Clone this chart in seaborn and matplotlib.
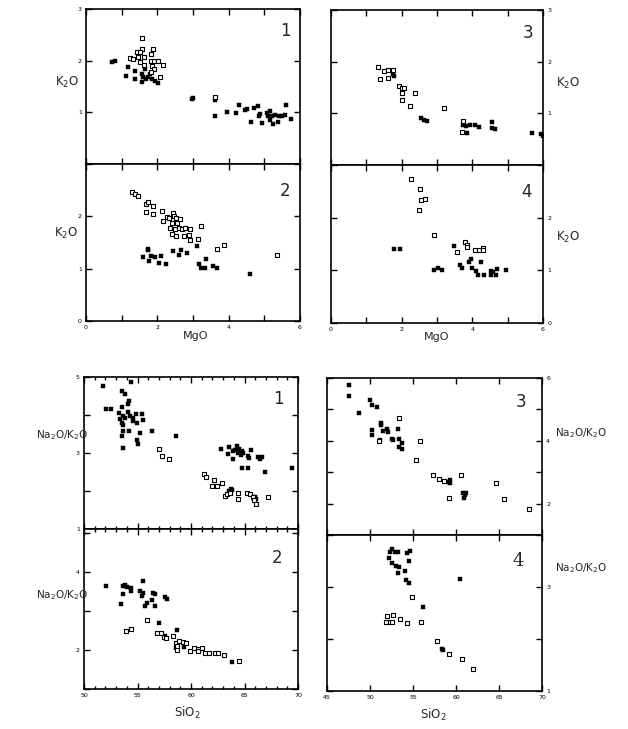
import numpy as np
import pandas as pd
import matplotlib
matplotlib.use("Agg")
import matplotlib.pyplot as plt
from matplotlib.ticker import MultipleLocator, FixedLocator
import seaborn as sns

sns.set_style("ticks")
plt.rcParams['font.family'] = ['DejaVu Sans']
plt.rcParams['mathtext.default'] = 'regular'

# ---------------- DATA ----------------
# Top-left panel 1 : K2O vs MgO
tl1_open_mgo = [1.58, 1.44, 1.57, 1.50, 1.87, 1.83, 1.24, 1.31, 1.47, 1.63, 1.50, 1.64, 1.82, 1.91, 2.03, 2.17, 1.85, 1.91, 1.83, 2.08, 3.63]
tl1_open_k2o = [2.44, 2.17, 2.22, 2.16, 2.22, 2.13, 2.05, 2.03, 2.07, 2.07, 1.98, 1.91, 1.99, 1.99, 2.00, 1.91, 1.89, 1.83, 1.78, 1.69, 1.30]
tl1_fill_mgo = [0.74, 0.81, 1.19, 1.12, 1.38, 1.36, 1.57, 1.61, 1.69, 1.57, 1.75, 1.85, 1.94, 2.01, 1.66, 1.80,
                2.97, 2.99, 3.63, 3.63, 3.96, 4.21, 4.30, 4.45, 4.52, 4.72, 4.82, 4.64, 4.89, 4.85, 4.94, 5.08, 5.17,
                5.11, 5.22, 5.31, 5.41, 5.50, 5.57, 5.15, 5.25, 5.38, 5.62, 5.75]
tl1_fill_k2o = [1.98, 2.00, 1.88, 1.71, 1.80, 1.64, 1.74, 1.68, 1.64, 1.59, 1.68, 1.64, 1.61, 1.57, 1.83, 1.74,
                1.25, 1.27, 1.23, 0.93, 1.01, 0.99, 1.14, 1.05, 1.06, 1.08, 1.13, 0.81, 0.96, 0.93, 0.80, 0.99, 1.02,
                0.93, 0.93, 0.94, 0.93, 0.93, 0.94, 0.86, 0.77, 0.82, 1.14, 0.88]

# Top-left panel 2
tl2_open_mgo = [1.29, 1.36, 1.47, 1.68, 1.73, 1.89, 1.68, 1.88, 2.13, 2.17, 2.27, 2.33, 2.45, 2.48, 2.53, 2.64,
                2.41, 2.55, 2.36, 2.50, 2.62, 2.69, 2.78, 2.92, 2.41, 2.53, 2.76, 2.89, 2.92, 3.23, 3.13, 3.67, 3.88, 5.35]
tl2_open_k2o = [2.46, 2.43, 2.39, 2.24, 2.27, 2.19, 2.09, 2.05, 2.11, 1.91, 1.99, 1.97, 2.06, 2.01, 1.97, 1.94,
                1.87, 1.87, 1.78, 1.75, 1.78, 1.76, 1.78, 1.76, 1.67, 1.62, 1.63, 1.65, 1.54, 1.82, 1.57, 1.37, 1.45, 1.27]
tl2_fill_mgo = [1.74, 1.75, 1.59, 1.83, 1.94, 2.11, 1.78, 2.05, 2.25, 2.43, 2.67, 2.61, 2.83, 3.11, 3.37, 3.17, 3.23, 3.34, 3.57, 3.67, 4.60]
tl2_fill_k2o = [1.35, 1.38, 1.22, 1.24, 1.23, 1.24, 1.15, 1.11, 1.08, 1.33, 1.35, 1.27, 1.29, 1.43, 1.18, 1.09, 1.02, 1.02, 1.06, 1.02, 0.89]

# Top-right panel 3
tr3_open_mgo = [1.34, 1.50, 1.60, 1.76, 1.38, 1.62, 1.92, 2.00, 2.07, 2.02, 2.02, 2.37, 2.23, 3.19, 3.73, 3.71]
tr3_open_k2o = [1.89, 1.82, 1.84, 1.84, 1.66, 1.68, 1.53, 1.49, 1.49, 1.40, 1.25, 1.39, 1.15, 1.11, 0.85, 0.63]
tr3_fill_mgo = [1.76, 1.78, 2.54, 2.63, 2.72, 3.73, 3.83, 3.92, 4.08, 4.18, 3.85, 4.55, 4.57, 4.65, 5.68, 5.94, 5.99]
tr3_fill_k2o = [1.76, 1.72, 0.91, 0.87, 0.85, 0.77, 0.75, 0.78, 0.77, 0.73, 0.61, 0.84, 0.72, 0.70, 0.61, 0.60, 0.57]

# Top-right panel 4
tr4_open_mgo = [2.27, 2.52, 2.55, 2.67, 2.50, 2.92, 3.58, 3.79, 3.86, 3.86, 4.07, 4.19, 4.31, 4.31]
tr4_open_k2o = [2.74, 2.55, 2.34, 2.35, 2.14, 1.68, 1.35, 1.53, 1.49, 1.45, 1.38, 1.39, 1.43, 1.39]
tr4_fill_mgo = [1.78, 1.94, 3.49, 2.92, 3.04, 3.13, 3.66, 3.72, 3.96, 3.91, 4.24, 4.00, 4.10, 4.17, 4.33, 4.54, 4.59, 4.66, 4.70, 4.52, 4.94]
tr4_fill_k2o = [1.41, 1.41, 1.46, 1.01, 1.05, 1.01, 1.11, 1.05, 1.22, 1.15, 1.15, 1.05, 0.99, 0.92, 0.92, 0.99, 0.96, 0.92, 1.03, 0.92, 1.00]

# Bottom-left panel 1 : Na2O/K2O vs SiO2
bl1_fill_sio2 = [51.74, 54.36, 53.52, 53.83, 54.24, 54.14, 52.06, 52.52, 53.52, 53.30, 53.61, 53.36, 53.83, 53.52, 53.68,
                 54.14, 54.30, 54.61, 54.55, 54.92, 54.86, 55.39, 55.55, 53.68, 54.21, 55.23, 56.32, 53.52, 54.92, 55.08,
                 58.57, 53.61, 62.77, 63.58, 64.27, 64.11, 64.52, 64.74, 64.89, 64.67, 64.42, 63.96, 63.43, 63.96,
                 65.58, 65.36, 65.45, 66.29, 66.60, 66.45, 64.74, 65.36, 66.92, 69.47, 63.71, 63.58, 63.80, 65.98, 66.07]
bl1_fill_ratio = [4.76, 4.87, 4.64, 4.55, 4.36, 4.29, 4.17, 4.17, 4.20, 4.06, 3.97, 3.89, 3.93, 3.80, 3.74,
                  4.08, 3.97, 3.93, 3.85, 3.80, 4.03, 4.03, 3.87, 3.59, 3.59, 3.53, 3.59, 3.46, 3.34, 3.25,
                  3.44, 3.12, 3.11, 3.17, 3.19, 3.08, 3.11, 3.06, 3.00, 2.94, 3.00, 3.04, 2.97, 2.85,
                  3.08, 2.93, 2.87, 2.89, 2.89, 2.83, 2.60, 2.60, 2.49, 2.60, 2.06, 2.00, 2.03, 1.84, 1.79]
bl1_open_sio2 = [57.01, 57.26, 57.94, 61.21, 61.40, 62.18, 61.93, 62.40, 62.87, 63.18, 63.40, 63.61, 64.36, 64.42,
                 65.20, 65.51, 65.76, 65.89, 66.07, 67.23]
bl1_open_ratio = [3.10, 2.93, 2.84, 2.46, 2.36, 2.30, 2.14, 2.14, 2.20, 1.86, 1.91, 1.94, 1.94, 1.78,
                  1.94, 1.91, 1.84, 1.77, 1.65, 1.84]

# Bottom-left panel 2
bl2_fill_sio2 = [52.06, 53.65, 53.87, 54.03, 54.38, 54.38, 53.65, 53.49, 55.49, 55.24, 55.56, 55.40, 56.44, 56.67,
                 56.35, 55.71, 56.67, 55.87, 57.56, 57.78, 56.98, 58.73, 58.63, 59.37, 57.56, 63.81]
bl2_fill_ratio = [3.64, 3.64, 3.67, 3.62, 3.60, 3.51, 3.44, 3.19, 3.77, 3.51, 3.47, 3.38, 3.47, 3.43,
                  3.27, 3.13, 3.13, 3.21, 3.36, 3.30, 2.68, 2.50, 2.04, 2.08, 2.36, 1.70]
bl2_open_sio2 = [55.87, 53.97, 54.38, 56.83, 57.24, 57.46, 57.62, 58.32, 58.57, 58.73, 58.73, 58.89, 59.21, 59.52,
                 59.90, 60.32, 60.63, 61.05, 60.63, 61.27, 61.68, 62.22, 62.54, 63.08, 64.44]
bl2_open_ratio = [2.76, 2.49, 2.53, 2.44, 2.44, 2.33, 2.31, 2.36, 2.19, 2.10, 1.99, 2.23, 2.21, 2.19,
                  1.97, 2.04, 2.02, 2.04, 1.97, 1.93, 1.91, 1.91, 1.91, 1.87, 1.72]

# Bottom-right panel 3
br3_fill_sio2 = [47.61, 47.61, 50.02, 50.21, 50.80, 48.74, 51.26, 51.26, 50.21, 50.21, 51.50, 51.97, 52.05, 51.11,
                 52.55, 52.67, 53.21, 53.33, 53.72, 53.40, 53.72, 59.09, 59.28, 59.36, 60.84, 60.99, 61.11, 60.91]
br3_fill_ratio = [5.79, 5.42, 5.31, 5.13, 5.08, 4.89, 4.57, 4.49, 4.34, 4.18, 4.31, 4.38, 4.28, 4.02,
                  4.06, 4.04, 4.36, 4.06, 3.94, 3.81, 3.75, 2.70, 2.67, 2.74, 2.33, 2.26, 2.35, 2.19]
br3_open_sio2 = [53.33, 50.99, 55.86, 55.35, 57.30, 58.00, 58.66, 60.60, 59.24, 64.69, 65.58, 68.50]
br3_open_ratio = [4.73, 3.99, 3.99, 3.39, 2.90, 2.79, 2.72, 2.90, 2.19, 2.67, 2.14, 1.82]

# Bottom-right panel 4
br4_fill_sio2 = [52.33, 52.61, 52.92, 53.31, 52.22, 52.53, 53.00, 53.43, 53.20, 54.02, 54.29, 54.69, 54.49,
                 54.18, 54.49, 60.49, 56.14, 58.33, 58.49]
br4_fill_ratio = [3.68, 3.73, 3.67, 3.67, 3.55, 3.47, 3.40, 3.38, 3.26, 3.30, 3.65, 3.70, 3.50,
                  3.13, 3.07, 3.16, 2.61, 1.81, 1.78]
br4_open_sio2 = [54.88, 51.94, 52.73, 51.86, 52.33, 52.61, 53.51, 54.29, 55.98, 57.82, 59.20, 60.65, 61.94]
br4_open_ratio = [2.81, 2.44, 2.46, 2.33, 2.33, 2.33, 2.38, 2.30, 2.33, 1.97, 1.72, 1.62, 1.42]

# ---------------- FIGURE ----------------
W, H = 628, 729
fig = plt.figure(figsize=(W / 100, H / 100), dpi=100)
fig.patch.set_facecolor('white')


def add_ax(x0, x1, y0, y1):
    return fig.add_axes([x0 / W, 1 - y1 / H, (x1 - x0) / W, (y1 - y0) / H])


def scatter(ax, fx, fy, ox, oy):
    sns.scatterplot(x=fx, y=fy, ax=ax, marker='s', s=5, color='black',
                    edgecolor='black', linewidth=0.3, legend=False, zorder=3)
    sns.scatterplot(x=ox, y=oy, ax=ax, marker='s', s=8, color='white',
                    edgecolor='black', linewidth=0.8, legend=False, zorder=4)


def style(ax, right=False):
    for sp in ax.spines.values():
        sp.set_linewidth(1.2)
        sp.set_color('black')
    ax.tick_params(which='both', direction='in', top=True, bottom=True, left=True, right=True,
                   labelsize=4.5, width=1.0, pad=3, colors='black')
    ax.tick_params(which='major', length=4)
    ax.tick_params(which='minor', length=2)
    if right:
        ax.tick_params(labelleft=False, labelright=True)
    ax.set_xlabel('')
    ax.set_ylabel('')


def txt(px, py, s, size=9, **kw):
    fig.text(px / W, 1 - py / H, s, fontsize=size, ha='center', va='center', **kw)


# Top-left
a = add_ax(86, 300, 9, 164)
scatter(a, tl1_fill_mgo, tl1_fill_k2o, tl1_open_mgo, tl1_open_k2o)
b = add_ax(86, 300, 164, 321)
scatter(b, tl2_fill_mgo, tl2_fill_k2o, tl2_open_mgo, tl2_open_k2o)
# Top-right
c = add_ax(331, 543, 10, 165)
scatter(c, tr3_fill_mgo, tr3_fill_k2o, tr3_open_mgo, tr3_open_k2o)
d = add_ax(331, 543, 165, 323)
scatter(d, tr4_fill_mgo, tr4_fill_k2o, tr4_open_mgo, tr4_open_k2o)

for ax, right, ylabels in [(a, False, [1, 2, 3]), (b, False, [0, 1, 2]),
                           (c, True, [1, 2, 3]), (d, True, [0, 1, 2])]:
    style(ax, right)
    ax.set_xlim(0, 6)
    ax.set_ylim(0, 3)
    ax.xaxis.set_major_locator(MultipleLocator(1))
    ax.set_xticklabels([])
    ax.yaxis.set_major_locator(FixedLocator([0, 1, 2, 3]))
    ax.set_yticklabels([str(v) if v in ylabels else '' for v in [0, 1, 2, 3]])
for ax in (b, d):
    ax.set_xticks([0, 1, 2, 3, 4, 5, 6])
    ax.set_xticklabels(['0', '', '2', '', '4', '', '6'])

# Bottom-left
e = add_ax(84, 298, 377, 529)
scatter(e, bl1_fill_sio2, bl1_fill_ratio, bl1_open_sio2, bl1_open_ratio)
f = add_ax(84, 298, 529, 689)
scatter(f, bl2_fill_sio2, bl2_fill_ratio, bl2_open_sio2, bl2_open_ratio)
# Bottom-right
g = add_ax(327, 542, 378, 535)
scatter(g, br3_fill_sio2, br3_fill_ratio, br3_open_sio2, br3_open_ratio)
h = add_ax(327, 542, 535, 691)
scatter(h, br4_fill_sio2, br4_fill_ratio, br4_open_sio2, br4_open_ratio)

for ax in (e, f):
    style(ax)
    ax.set_xlim(50, 70)
    ax.xaxis.set_major_locator(MultipleLocator(5))
    ax.xaxis.set_minor_locator(MultipleLocator(1))
e.set_xticklabels([])
e.set_ylim(1, 5)
e.set_yticks([1, 2, 3, 4, 5])
e.set_yticklabels(['1', '', '3', '', '5'])
f.set_ylim(1, 5.1)
f.set_yticks([1, 2, 3, 4, 5])
f.set_yticklabels(['', '2', '', '4', ''])
f.set_xticks([50, 55, 60, 65, 70])
f.set_xticklabels(['50', '55', '60', '65', '70'])

for ax in (g, h):
    style(ax, right=True)
    ax.set_xlim(45, 70)
    ax.xaxis.set_major_locator(MultipleLocator(5))
g.set_xticklabels([])
g.set_ylim(1, 6)
g.set_yticks([1, 2, 3, 4, 5, 6])
g.set_yticklabels(['', '2', '', '4', '', '6'])
h.set_ylim(1, 4)
h.set_yticks([1, 2, 3, 4])
h.set_yticklabels(['1', '', '3', ''])
h.set_xticks([45, 50, 55, 60, 65, 70])
h.set_xticklabels(['45', '50', '55', '60', '65', '70'])

# Axis labels
txt(67, 82, 'K$_2$O', 8.5)
txt(66, 233, 'K$_2$O', 8.5)
txt(568, 83, 'K$_2$O', 8.5)
txt(568, 237, 'K$_2$O', 8.5)
txt(196, 336, 'MgO', 8)
txt(437, 337, 'MgO', 8)
txt(62, 435, 'Na$_2$O/K$_2$O', 7.5)
txt(62, 595, 'Na$_2$O/K$_2$O', 7.5)
txt(581, 433, 'Na$_2$O/K$_2$O', 7.5)
txt(581, 568, 'Na$_2$O/K$_2$O', 7.5)
txt(187, 713, 'SiO$_2$', 8.5)
txt(433, 715, 'SiO$_2$', 8.5)

# Panel numbers
txt(285, 31, '1', 12)
txt(285, 191, '2', 12)
txt(528, 33, '3', 12)
txt(527, 192, '4', 12)
txt(278, 399, '1', 12)
txt(277, 558, '2', 12)
txt(521, 402, '3', 12)
txt(518, 561, '4', 13, family='DejaVu Serif')

fig.savefig('out.png', dpi=100, facecolor='white')
